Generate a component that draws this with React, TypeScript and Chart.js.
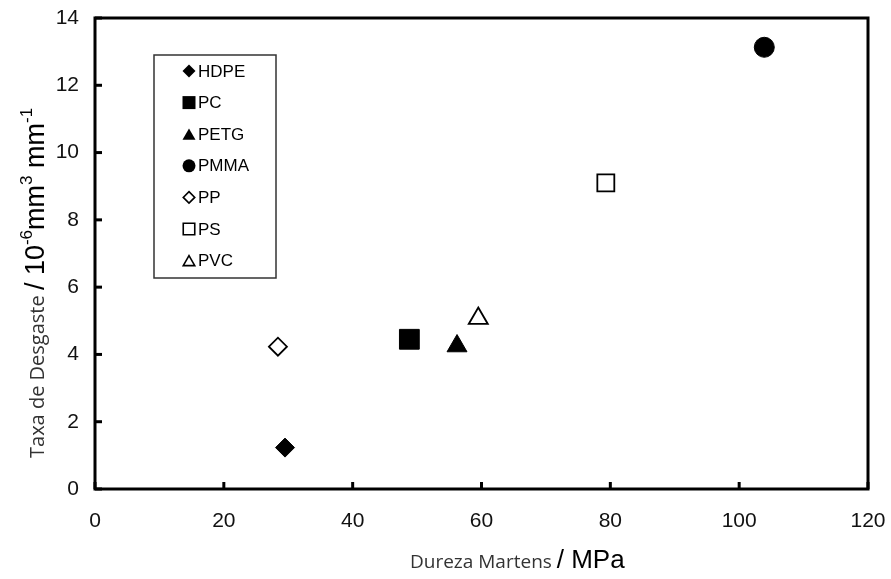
import { useEffect, useRef } from 'react';
import { Chart, registerables } from 'chart.js';

Chart.register(...registerables);

// ---- data ----
const materials = ['HDPE', 'PC', 'PETG', 'PMMA', 'PP', 'PS', 'PVC'];
const hardness = [29.5, 48.8, 56.2, 103.9, 28.4, 79.3, 59.5]; // MPa
const wearRate = [1.23, 4.45, 4.25, 13.13, 4.23, 9.1, 5.07]; // 10^-6 mm3 mm-1
const xTickValues = [0, 20, 40, 60, 80, 100, 120];
const yTickValues = [0, 2, 4, 6, 8, 10, 12, 14];

// ---- styles ----
const shapes = ['rectRot', 'rect', 'triangle', 'circle', 'rectRot', 'rect', 'triangle'];
const filled = [true, true, true, true, false, false, false];
const radii = [9.5, 14, 11.5, 10, 9, 12, 11];

const TICK_FONT = '"Liberation Sans", Arial, sans-serif';
const SMALL_FONT = '"Open Sans", "Noto Sans", sans-serif';

function drawMarker(ctx: CanvasRenderingContext2D, shape: string, x: number, y: number, size: number, fill: boolean) {
  const h = size / 2;
  ctx.beginPath();
  if (shape === 'rectRot') {
    ctx.moveTo(x, y - h);
    ctx.lineTo(x + h, y);
    ctx.lineTo(x, y + h);
    ctx.lineTo(x - h, y);
    ctx.closePath();
  } else if (shape === 'rect') {
    ctx.rect(x - h, y - h, size, size);
  } else if (shape === 'triangle') {
    const th = size * 0.866;
    ctx.moveTo(x, y - th / 2);
    ctx.lineTo(x + h, y + th / 2);
    ctx.lineTo(x - h, y + th / 2);
    ctx.closePath();
  } else {
    ctx.arc(x, y, h, 0, Math.PI * 2);
  }
  if (fill) {
    ctx.fillStyle = '#000';
    ctx.fill();
  } else {
    ctx.fillStyle = '#fff';
    ctx.fill();
    ctx.lineWidth = 1.6;
    ctx.strokeStyle = '#000';
    ctx.stroke();
  }
}

const framePlugin = {
  id: 'frame',
  afterDatasetsDraw(chart: any) {
    const { ctx, chartArea: a } = chart;
    ctx.save();
    ctx.strokeStyle = '#000';
    ctx.lineWidth = 3;
    ctx.lineJoin = 'miter';
    ctx.strokeRect(a.left, a.top, a.right - a.left, a.bottom - a.top);
    const xs = chart.scales.x;
    const ys = chart.scales.y;
    xs.ticks.forEach((t: any) => {
      const px = xs.getPixelForValue(t.value);
      ctx.beginPath();
      ctx.moveTo(px, a.bottom);
      ctx.lineTo(px, a.bottom - 7);
      ctx.stroke();
    });
    ys.ticks.forEach((t: any) => {
      const py = ys.getPixelForValue(t.value);
      ctx.beginPath();
      ctx.moveTo(a.left, py);
      ctx.lineTo(a.left + 7, py);
      ctx.stroke();
    });
    ctx.restore();
  },
};

const legendPlugin = {
  id: 'insideLegend',
  afterDraw(chart: any) {
    const { ctx, chartArea: a } = chart;
    const bx = a.left + 59;
    const by = a.top + 37;
    const bw = 122;
    const bh = 223;
    ctx.save();
    ctx.strokeStyle = '#333';
    ctx.lineWidth = 1.5;
    ctx.strokeRect(bx, by, bw, bh);
    ctx.font = '17px ' + TICK_FONT;
    ctx.textBaseline = 'middle';
    ctx.textAlign = 'left';
    chart.data.datasets.forEach((ds: any, i: number) => {
      const cy = by + 16 + i * 31.6;
      drawMarker(ctx, shapes[i], bx + 35, cy, filled[i] ? 13 : 11.5, filled[i]);
      ctx.fillStyle = '#000';
      ctx.fillText(ds.label, bx + 44, cy + 1);
    });
    ctx.restore();
  },
};

function drawRuns(ctx: CanvasRenderingContext2D, runs: { t: string; f: string; c: string; dy: number }[]) {
  let x = 0;
  runs.forEach((r) => {
    ctx.font = r.f;
    ctx.fillStyle = r.c;
    ctx.fillText(r.t, x, r.dy);
    x += ctx.measureText(r.t).width;
  });
}

const titlesPlugin = {
  id: 'axisTitles',
  afterDraw(chart: any) {
    const { ctx, chartArea: a } = chart;
    ctx.save();
    ctx.textBaseline = 'alphabetic';
    ctx.textAlign = 'left';
    const bigX = '26px ' + TICK_FONT;
    const big = '27px ' + TICK_FONT;
    const sup = '17px ' + TICK_FONT;
    const small = '19px ' + SMALL_FONT;
    const smallY = '20px ' + SMALL_FONT;
    // x title
    ctx.save();
    ctx.translate(410, a.bottom + 79);
    drawRuns(ctx, [
      { t: 'Dureza Martens ', f: small, c: '#333', dy: 0 },
      { t: '/ MPa', f: bigX, c: '#000', dy: 0 },
    ]);
    ctx.restore();
    // y title
    ctx.save();
    ctx.translate(44, 458);
    ctx.rotate(-Math.PI / 2);
    drawRuns(ctx, [
      { t: 'Taxa de Desgaste ', f: smallY, c: '#333', dy: 0 },
      { t: '/ 10', f: big, c: '#000', dy: 0 },
      { t: '-6', f: sup, c: '#000', dy: -12 },
      { t: 'mm', f: big, c: '#000', dy: 0 },
      { t: '3', f: sup, c: '#000', dy: -12 },
      { t: ' mm', f: big, c: '#000', dy: 0 },
      { t: '-1', f: sup, c: '#000', dy: -12 },
    ]);
    ctx.restore();
    ctx.restore();
  },
};

function zeroPadding(s: any) {
  s.paddingTop = 0;
  s.paddingBottom = 0;
  s.paddingLeft = 0;
  s.paddingRight = 0;
}

export default function App() {
  const ref = useRef<HTMLCanvasElement>(null);
  useEffect(() => {
    document.body.style.margin = '0';
    if (!ref.current) return;
    const datasets = materials.map((m, i) => ({
      label: m,
      data: [{ x: hardness[i], y: wearRate[i] }],
      pointStyle: shapes[i],
      pointRadius: radii[i],
      pointHoverRadius: radii[i],
      backgroundColor: filled[i] ? '#000' : '#fff',
      borderColor: '#000',
      borderWidth: filled[i] ? 1 : 1.8,
    }));
    const chart = new Chart(ref.current, {
      type: 'scatter',
      data: { datasets },
      options: {
        animation: false,
        responsive: true,
        maintainAspectRatio: false,
        layout: { autoPadding: false, padding: { top: 18, right: 23, left: 0, bottom: 0 } },
        plugins: {
          legend: { display: false },
          tooltip: { enabled: false },
        },
        scales: {
          x: {
            type: 'linear',
            min: xTickValues[0],
            max: xTickValues[xTickValues.length - 1],
            afterBuildTicks: (s: any) => {
              s.ticks = xTickValues.map((v) => ({ value: v }));
            },
            afterFit: (s: any) => {
              s.height = 90;
              zeroPadding(s);
            },
            grid: { display: false, drawTicks: false },
            border: { display: false },
            ticks: {
              padding: 20,
              color: '#111',
              font: { family: TICK_FONT, size: 21 },
              maxRotation: 0,
            },
          },
          y: {
            type: 'linear',
            min: yTickValues[0],
            max: yTickValues[yTickValues.length - 1],
            afterBuildTicks: (s: any) => {
              s.ticks = yTickValues.map((v) => ({ value: v }));
            },
            afterFit: (s: any) => {
              s.width = 95;
              zeroPadding(s);
            },
            grid: { display: false, drawTicks: false },
            border: { display: false },
            ticks: {
              padding: 16,
              color: '#111',
              font: { family: TICK_FONT, size: 21 },
            },
          },
        },
      },
      plugins: [framePlugin, legendPlugin, titlesPlugin],
    } as any);
    return () => chart.destroy();
  }, []);
  return (
    <div style={{ width: 891, height: 579, position: 'relative' }}>
      <canvas ref={ref} />
    </div>
  );
}
